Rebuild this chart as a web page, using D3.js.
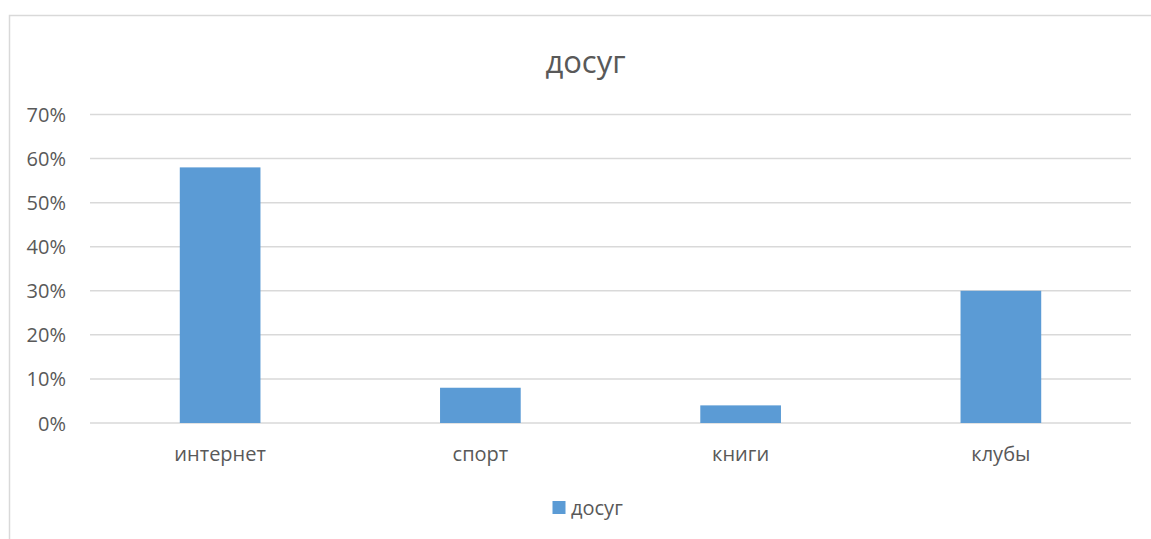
<!DOCTYPE html>
<html><head><meta charset="utf-8">
<script src="https://cdn.jsdelivr.net/npm/d3@7"></script>
<style>body{margin:0;background:#fff;} svg{display:block;} text{font-family:"Open Sans",sans-serif;fill:#595959;}</style>
</head><body>
<svg id="c" width="1151" height="539"></svg>
<script>
const categories = ["интернет", "спорт", "книги", "клубы"];
const values = [0.58, 0.08, 0.04, 0.30];
const yTicks = [0, 0.1, 0.2, 0.3, 0.4, 0.5, 0.6, 0.7];
const seriesName = "досуг";
const title = "досуг";

const svg = d3.select("#c");
svg.append("rect").attr("x", 9.5).attr("y", 15.5).attr("width", 1200).attr("height", 600)
  .attr("fill", "#fff").attr("stroke", "#d9d9d9").attr("stroke-width", 1.5);

const L = 90, R = 1131, T = 114.5, B = 423;
const x = d3.scaleBand().domain(categories).range([L, R]).paddingInner(0.69).paddingOuter(0.345);
const y = d3.scaleLinear().domain([0, 0.7]).range([B, T]);

const grid = svg.append("g");
grid.selectAll("line").data(yTicks).join("line")
  .attr("x1", L).attr("x2", R).attr("y1", d => y(d)).attr("y2", d => y(d))
  .attr("stroke", "#d9d9d9").attr("stroke-width", 1.5);

const yAxis = d3.axisLeft(y).tickValues(yTicks).tickFormat(d3.format(".0%")).tickSize(0).tickPadding(0);
const ya = svg.append("g").attr("transform", `translate(${L - 24},0)`).call(yAxis);
ya.select(".domain").remove();
ya.selectAll("text").attr("font-size", 20).attr("fill", "#595959").attr("dy", "0.35em");

svg.append("g").selectAll("rect").data(values).join("rect")
  .attr("x", (d, i) => x(categories[i])).attr("width", x.bandwidth())
  .attr("y", d => y(d)).attr("height", d => B - y(d)).attr("fill", "#5b9bd5");

const xAxis = d3.axisBottom(x).tickSize(0).tickPadding(0);
const xa = svg.append("g").attr("transform", `translate(0,${B})`).call(xAxis);
xa.select(".domain").remove();
xa.selectAll("text").attr("font-size", 20).attr("fill", "#595959").attr("dy", null).attr("y", 38);

svg.append("text").attr("x", (L + R) / 2 - 25).attr("y", 73).attr("text-anchor", "middle")
  .attr("font-size", 31).text(title);

const lg = svg.append("g");
lg.append("rect").attr("x", 552.5).attr("y", 501).attr("width", 13).attr("height", 13).attr("fill", "#5b9bd5");
lg.append("text").attr("x", 571).attr("y", 515).attr("font-size", 20).text(seriesName);
</script>
</body></html>
